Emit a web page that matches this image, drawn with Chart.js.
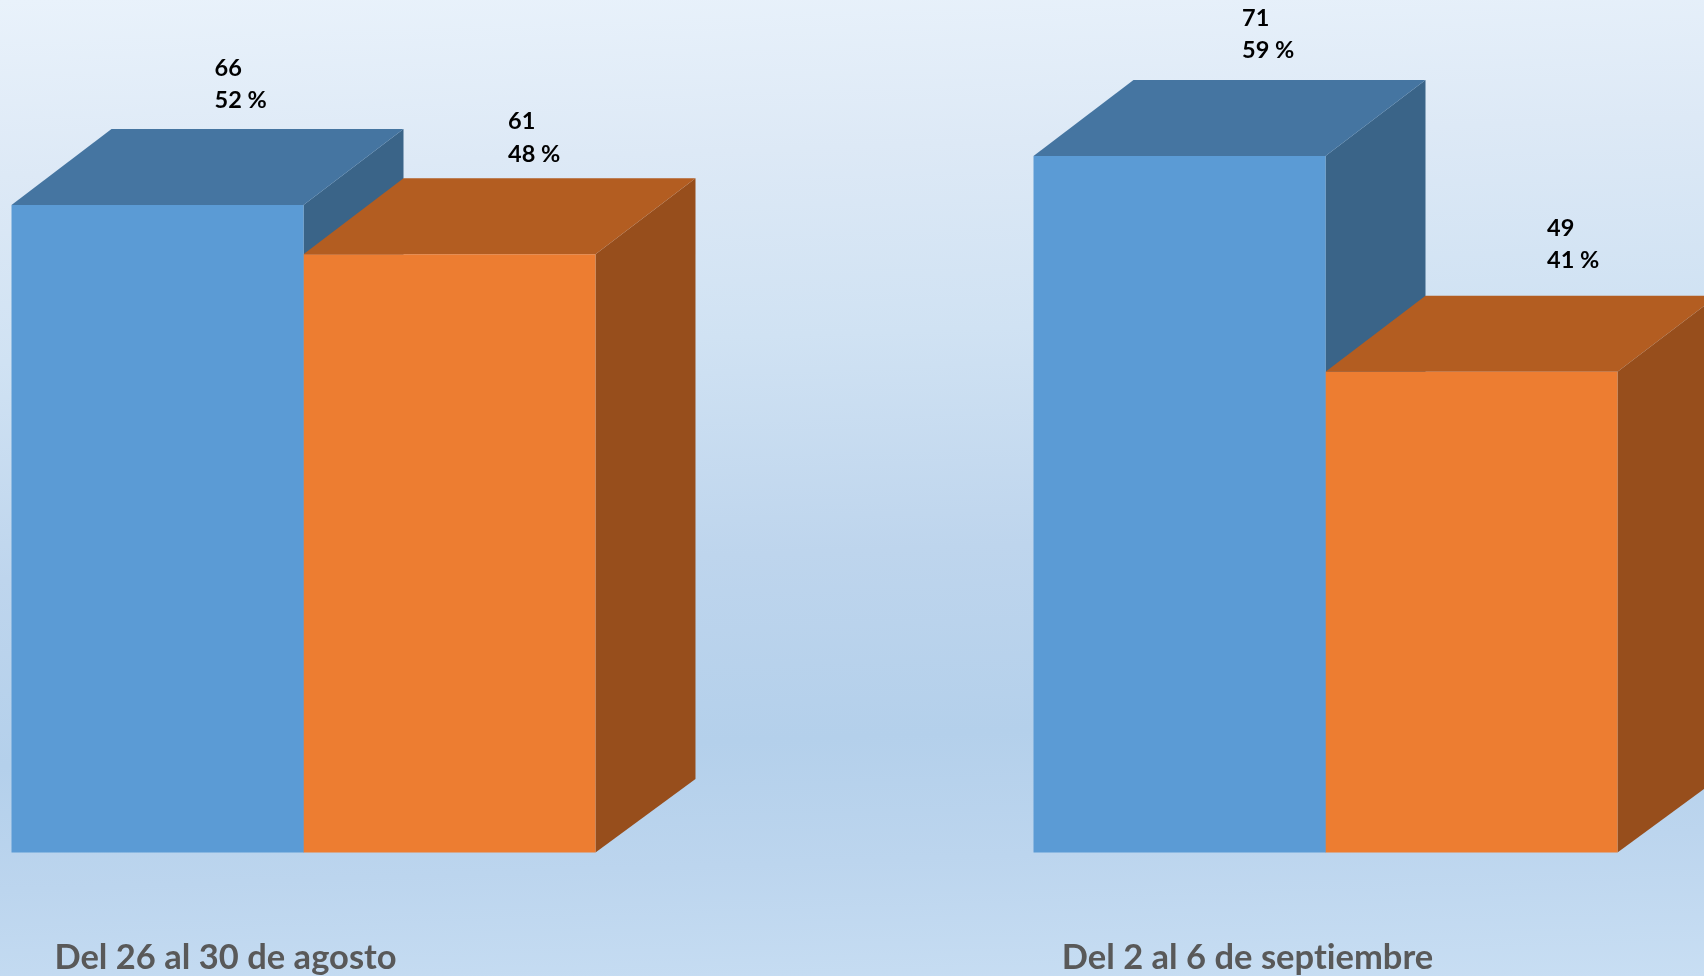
<!DOCTYPE html>
<html lang="es">
<head>
<meta charset="utf-8">
<title>Chart</title>
<script src="https://cdn.jsdelivr.net/npm/chart.js@4"></script>
<style>
html,body{margin:0;padding:0;width:1704px;height:976px;overflow:hidden;}
body{background:linear-gradient(178deg,#e9f2fb 0%,#dde9f6 17%,#d0e2f3 35%,#bed5ed 56%,#b4d0eb 74%,#bcd5ee 86%,#c8def3 100%);}
canvas{display:block;}
</style>
</head>
<body>
<canvas id="c" width="1704" height="976"></canvas>
<script>
const categories = ["Del 26 al 30 de agosto", "Del 2 al 6 de septiembre"];
const seriesBlue = [66, 71];
const seriesOrange = [61, 49];
const percentBlue = [52, 59];
const percentOrange = [48, 41];

const DEPTH_X = 100, DEPTH_Y = 76, DEPTH_Y_BASE = 73.5;
const faces = [
  {front:"#5b9bd5", top:"#4575a1", side:"#3a6488"},
  {front:"#ed7d31", top:"#b35d21", side:"#974e1c"}
];
// Label placement relative to each bar's left edge / top edge: [dataset][category]
const labelNudge = [
  [{dx:203, dy:-137}, {dx:208.5, dy:-138}],
  [{dx:204.5, dy:-132.5}, {dx:221.5, dy:-143.5}]
];
const percents = [percentBlue, percentOrange];

function poly(ctx, pts, fill){
  ctx.beginPath();
  pts.forEach((p,i)=> i ? ctx.lineTo(p[0],p[1]) : ctx.moveTo(p[0],p[1]));
  ctx.closePath();
  ctx.fillStyle = fill;
  ctx.fill();
}

const box3d = {
  id:"box3d",
  beforeDraw(chart){
    chart.ctx.letterSpacing = "0.01px";
  },
  beforeDatasetsDraw(chart){
    const ctx = chart.ctx;
    ctx.save();
    chart.data.datasets.forEach((ds,di)=>{
      chart.getDatasetMeta(di).data.forEach(bar=>{
        const l = bar.x-bar.width/2, r = bar.x+bar.width/2, t = bar.y, b = bar.base;
        poly(ctx,[[r,t],[r+DEPTH_X,t-DEPTH_Y],[r+DEPTH_X,b-DEPTH_Y_BASE],[r,b]],faces[di].side);
        poly(ctx,[[l,t],[l+DEPTH_X,t-DEPTH_Y],[r+DEPTH_X,t-DEPTH_Y],[r,t]],faces[di].top);
      });
    });
    ctx.restore();
  },
  afterDatasetsDraw(chart){
    const ctx = chart.ctx;
    ctx.save();
    ctx.font = "bold 23.5px Lato";
    ctx.fillStyle = "#000";
    ctx.textAlign = "left";
    ctx.textBaseline = "middle";
    chart.data.datasets.forEach((ds,di)=>{
      chart.getDatasetMeta(di).data.forEach((bar,i)=>{
        const l = bar.x-bar.width/2;
        const n = labelNudge[di][i];
        ctx.fillText(String(ds.data[i]), l+n.dx, bar.y+n.dy);
        ctx.fillText(percents[di][i]+" %", l+n.dx, bar.y+n.dy+32.5);
      });
    });
    ctx.restore();
  }
};

new Chart(document.getElementById("c"),{
  type:"bar",
  data:{
    labels:categories,
    datasets:[
      {label:"Serie 1",data:seriesBlue,backgroundColor:faces[0].front,borderWidth:0,clip:false},
      {label:"Serie 2",data:seriesOrange,backgroundColor:faces[1].front,borderWidth:0,clip:false}
    ]
  },
  plugins:[box3d],
  options:{
    responsive:false,
    animation:false,
    devicePixelRatio:1,
    categoryPercentage:0.5714,
    barPercentage:1,
    layout:{padding:{left:303.5,right:378.5,top:18.7,bottom:0}},
    plugins:{legend:{display:false},tooltip:{enabled:false},title:{display:false}},
    scales:{
      x:{
        type:"category",
        offset:false,
        grid:{display:false,drawTicks:false},
        border:{display:false},
        afterFit(scale){scale.height=123.5;},
        ticks:{
          autoSkip:false,maxRotation:0,minRotation:0,
          labelOffset:-78,
          padding:85,
          color:"#595959",
          font:{family:"Lato",weight:"bold",size:34.5}
        }
      },
      y:{display:false,min:0,max:85,grid:{display:false}}
    }
  }
});
</script>
</body>
</html>
